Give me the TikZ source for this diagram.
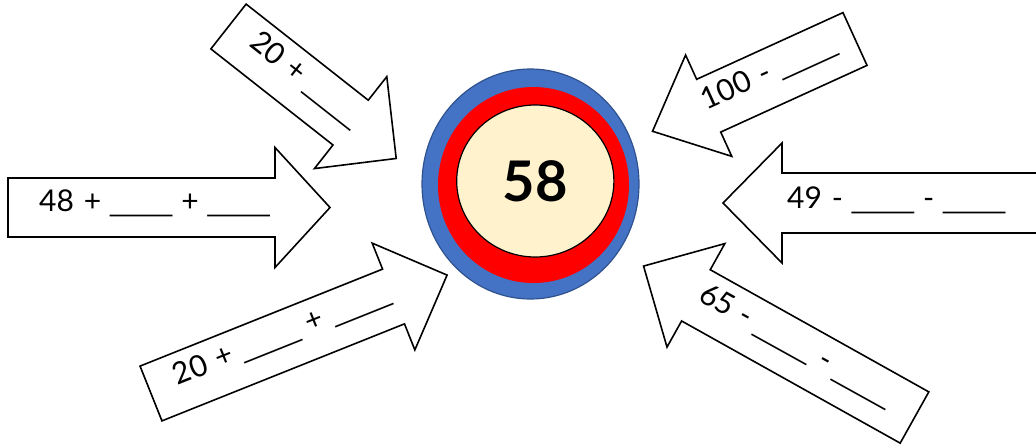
\documentclass[tikz,border=0pt]{standalone}
\usepackage{fontspec}
\usepackage{graphicx}
\setmainfont{Lato}[WordSpace=1.3]
\newfontfamily\ulfont{Liberation Sans}
\definecolor{cblue}{HTML}{4472C4}
\definecolor{cblueedge}{HTML}{2F528F}
\definecolor{cred}{HTML}{FF0000}
\definecolor{ccream}{HTML}{FFF2CC}
\newcommand\blankline{{\ulfont\fontsize{27}{30}\selectfont\scalebox{4}[1]{\_}}}
\tikzset{
  arw/.style={draw=black, fill=white, line width=1.6pt, line join=miter},
  lbl/.style={font=\fontsize{30}{34}\selectfont, inner sep=0pt, anchor=mid west},
}
% #1,#2 tail centre, #3 angle, #4 shaft length, #5 shaft width, #6 head width, #7 head length
\newcommand\arrowshape[7]{%
  \draw[arw, shift={(#1,#2)}, rotate=#3]
    (0,-#5/2) -- (#4,-#5/2) -- (#4,-#6/2) -- ({#4+#7},0) -- (#4,#6/2) -- (#4,#5/2) -- (0,#5/2) -- cycle;}
\begin{document}
\begin{tikzpicture}[x=1pt,y=-1pt]
\useasboundingbox (0,0) rectangle (1036,445);
\clip (0,0) rectangle (1036,445);
% target circles
\fill[cblue, draw=cblueedge, line width=1.2pt] (530.5,184) ellipse [x radius=108.5, y radius=115];
\fill[cred] (533.5,185) ellipse [x radius=95.5, y radius=98];
\filldraw[fill=ccream, draw=black, line width=1.2pt] (535.3,181) ellipse [x radius=78.6, y radius=76];
\node[inner sep=0pt, font=\fontsize{56}{60}\selectfont\bfseries] (c) at (535,181) {58};
% arrows
\arrowshape{8}{207.5}{0}{267}{59}{120}{55}
\arrowshape{228.5}{26.5}{-38.2}{155.4}{57}{117}{58}
\arrowshape{151}{393.5}{21.8}{261.2}{59}{115}{57.7}
\arrowshape{855}{39}{-155.5}{160.8}{58}{111.4}{61.7}
\arrowshape{1045}{203}{180}{263}{60}{120}{59}
\arrowshape{914.5}{417.5}{150.8}{250.4}{58.7}{118.6}{60}
% labels
\node[lbl] (t1) at (39,208.5) {48 + \blankline{} + \blankline};
\node[lbl, rotate=-38.2] (t2) at (249.7,43.2) {20 + \blankline};
\node[lbl, rotate=21.8] (t3) at (176.8,383.2) {20 + \blankline{} + \blankline};
\node[lbl, rotate=24.5] (t4) at (705.4,108) {100 - \blankline};
\node[lbl] (t5) at (787,206) {49 - \blankline{} - \blankline};
\node[lbl, rotate=-29] (t6) at (698.6,297.7) {65 - \blankline{} - \blankline};
\end{tikzpicture}
\end{document}
